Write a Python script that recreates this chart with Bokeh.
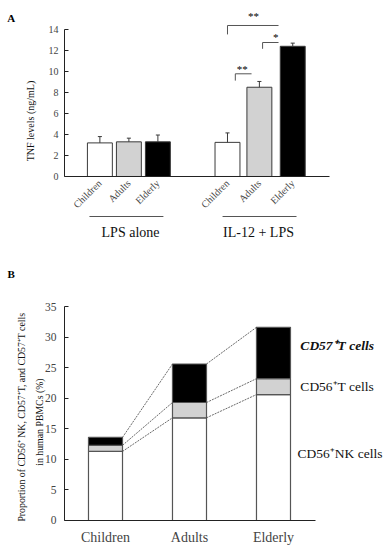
import math
from bokeh.plotting import figure
from bokeh.models import Range1d, FixedTicker
from bokeh.layouts import column
from bokeh.embed import file_html
from bokeh.resources import INLINE
from bokeh.core.properties import value

SERIF = "Liberation Serif"

# ---------------- Panel A data ----------------
age_groups = ["Children", "Adults", "Elderly"]
conditions = ["LPS alone", "IL-12 + LPS"]
lps_alone = [3.2, 3.3, 3.3]
lps_alone_err = [0.6, 0.35, 0.65]
il12_lps = [3.25, 8.5, 12.4]
il12_lps_err = [0.9, 0.55, 0.3]
tnf_ticks = [0, 2, 4, 6, 8, 10, 12, 14]
sig_labels = ["**", "*", "**"]
ylabel_a = "TNF levels  (ng/mL)"

# ---------------- Panel B data ----------------
nk_cells = [11.3, 16.8, 20.6]
cd56_t = [1.0, 2.5, 2.6]
cd57_t = [1.3, 6.3, 8.4]
prop_ticks = [0, 5, 10, 15, 20, 25, 30, 35]
series_names = ["CD56\u207aNK cells", "CD56\u207aT cells", "CD57\u207aT cells"]
ylabel_b = ["Proportion of CD56\u207a NK, CD57\u207aT, and CD57\u207aT cells",
            "in human   PBMCs   (%)"]

fills = ["white", "#d2d2d2", "black"]
edge = "#3a3a3a"

# ================= Panel A =================
pos_a = [1, 2, 3, 5.4, 6.5, 7.65]
bw_a = 0.86
vals_a = lps_alone + il12_lps
errs_a = lps_alone_err + il12_lps_err

pA = figure(width=390, height=262, output_backend="svg", toolbar_location=None,
            x_range=Range1d(-2.427, 11.021), y_range=Range1d(-8.19, 16.76),
            min_border=0)
pA.outline_line_color = None
pA.grid.visible = False

pA.vbar(x=pos_a, top=vals_a, bottom=0, width=bw_a,
        fill_color=fills * 2, line_color=edge, line_width=1)
tops = [v + e for v, e in zip(vals_a, errs_a)]
pA.segment(x0=pos_a, y0=vals_a, x1=pos_a, y1=tops, line_color=edge, line_width=1)
pA.segment(x0=[x - 0.07 for x in pos_a], y0=tops, x1=[x + 0.07 for x in pos_a],
           y1=tops, line_color=edge, line_width=1)

# significance brackets (horizontal bar with a left leg) and stars
br_x0 = [5.40, 6.61, 5.67]
br_x1 = [7.16, 7.16, 6.23]
br_y = [14.38, 12.76, 9.78]
br_leg = [0.85, 0.6, 0.65]
st_x = [6.3, 7.06, 5.91]
st_y = [15.33, 13.33, 10.28]
pA.segment(x0=br_x0, y0=br_y, x1=br_x1, y1=br_y, line_color="#555555", line_width=1)
pA.segment(x0=br_x0, y0=br_y, x1=br_x0, y1=[y - l for y, l in zip(br_y, br_leg)],
           line_color="#555555", line_width=1)
pA.text(x=st_x, y=st_y, text=sig_labels, text_font=value(SERIF),
        text_font_size="11px", text_align="center", text_baseline="middle",
        text_color="black")

ya = pA.yaxis[0]
ya.fixed_location = -0.22
ya.ticker = FixedTicker(ticks=tnf_ticks)
ya.bounds = (0, 14)
ya.major_tick_in = 4
ya.major_tick_out = 0
ya.minor_tick_line_color = None
ya.major_label_text_font = SERIF
ya.major_label_text_font_size = "10px"
ya.major_label_standoff = 6
ya.axis_line_color = "#222222"
ya.major_tick_line_color = "#222222"

# y-axis title (rotated)
pA.text(x=[-1.392], y=[5.4], text=[ylabel_a], angle=math.pi / 2,
        text_font=value(SERIF), text_font_size="10px", text_align="center",
        text_baseline="middle", text_color="#111111")

xa_ = pA.xaxis[0]
xa_.fixed_location = 0
xa_.bounds = (-0.22, 8.91)
xa_.ticker = FixedTicker(ticks=pos_a)
xa_.major_label_overrides = {p: n for p, n in zip(pos_a, age_groups * 2)}
xa_.major_label_orientation = math.pi / 4
xa_.major_tick_in = 0
xa_.major_tick_out = 0
xa_.minor_tick_line_color = None
xa_.major_label_text_font = SERIF
xa_.major_label_text_font_size = "10px"
xa_.major_label_standoff = 5
xa_.axis_line_color = "#222222"

# group underlines and names
grp_x0 = [0.64, 5.23]
grp_x1 = [3.19, 7.78]
grp_cx = [2.056, 6.47]
pA.segment(x0=grp_x0, y0=[-3.81] * 2, x1=grp_x1, y1=[-3.81] * 2,
           line_color="#555555", line_width=1.2)
pA.text(x=grp_cx, y=[-5.3] * 2, text=conditions, text_font=value(SERIF),
        text_font_size="14px", text_align="center", text_baseline="middle",
        text_color="#111111")
pA.text(x=[-2.19], y=[15.14], text=["A"], text_font=value(SERIF),
        text_font_size="11px", text_font_style=value("bold"),
        text_align="left", text_baseline="alphabetic", text_color="black")

# ================= Panel B =================
pos_b = [1, 2, 3]
bw_b = 0.405
pB = figure(width=390, height=286, output_backend="svg", toolbar_location=None,
            x_range=Range1d(-0.25, 4.393), y_range=Range1d(-4.58, 42.2),
            min_border=0)
pB.outline_line_color = None
pB.grid.visible = False

b0 = [0, 0, 0]
b1 = nk_cells
b2 = [a + b for a, b in zip(nk_cells, cd56_t)]
b3 = [a + b for a, b in zip(b2, cd57_t)]
for bot, top, col in [(b0, b1, fills[0]), (b1, b2, fills[1]), (b2, b3, fills[2])]:
    pB.vbar(x=pos_b, bottom=bot, top=top, width=bw_b, fill_color=col,
            line_color="#555555", line_width=1.2)

for lvl in (b1, b2, b3):
    x0 = [pos_b[i] + bw_b / 2 for i in range(2)]
    x1 = [pos_b[i + 1] - bw_b / 2 for i in range(2)]
    pB.segment(x0=x0, y0=lvl[:2], x1=x1, y1=lvl[1:], line_color="#444444",
               line_width=0.8, line_dash="2 1")

yb = pB.yaxis[0]
yb.fixed_location = 0.512
yb.ticker = FixedTicker(ticks=prop_ticks)
yb.bounds = (0, 35)
yb.major_tick_in = 4
yb.major_tick_out = 0
yb.minor_tick_line_color = None
yb.major_label_text_font = SERIF
yb.major_label_text_font_size = "11.5px"
yb.major_label_standoff = 8
yb.axis_line_color = "#222222"
yb.major_tick_line_color = "#222222"

# y-axis title, two rotated lines
pB.text(x=[0.0, 0.22], y=[16.9, 16.9], text=ylabel_b, angle=math.pi / 2,
        text_font=value(SERIF), text_font_size="9.8px", text_align="center",
        text_baseline="middle", text_color="#111111")

xb = pB.xaxis[0]
xb.fixed_location = 0
xb.ticker = FixedTicker(ticks=pos_b)
xb.major_label_overrides = {p: n for p, n in zip(pos_b, age_groups)}
xb.bounds = (0.512, 3.5)
xb.major_tick_in = 0
xb.major_tick_out = 0
xb.minor_tick_line_color = None
xb.major_label_text_font = SERIF
xb.major_label_text_font_size = "14px"
xb.major_label_standoff = 10
xb.axis_line_color = "#222222"

lab_y = [11.0, 21.9, 28.6]
lab_x = [3.286, 3.32, 3.32]
pB.text(x=lab_x[:2], y=lab_y[:2], text=series_names[:2], text_font=value(SERIF),
        text_font_size="13.5px", text_align="left", text_baseline="middle",
        text_color="#111111")
pB.text(x=lab_x[2:], y=lab_y[2:], text=series_names[2:], text_font=value(SERIF),
        text_font_size="13.5px", text_font_style=value("bold italic"),
        text_align="left", text_baseline="middle", text_color="#111111")
pB.text(x=[-0.167], y=[40.4], text=["B"], text_font=value(SERIF),
        text_font_size="11px", text_font_style=value("bold"),
        text_align="left", text_baseline="alphabetic", text_color="black")

layout = column(pA, pB)
open("out.html", "w").write(file_html(layout, INLINE))
